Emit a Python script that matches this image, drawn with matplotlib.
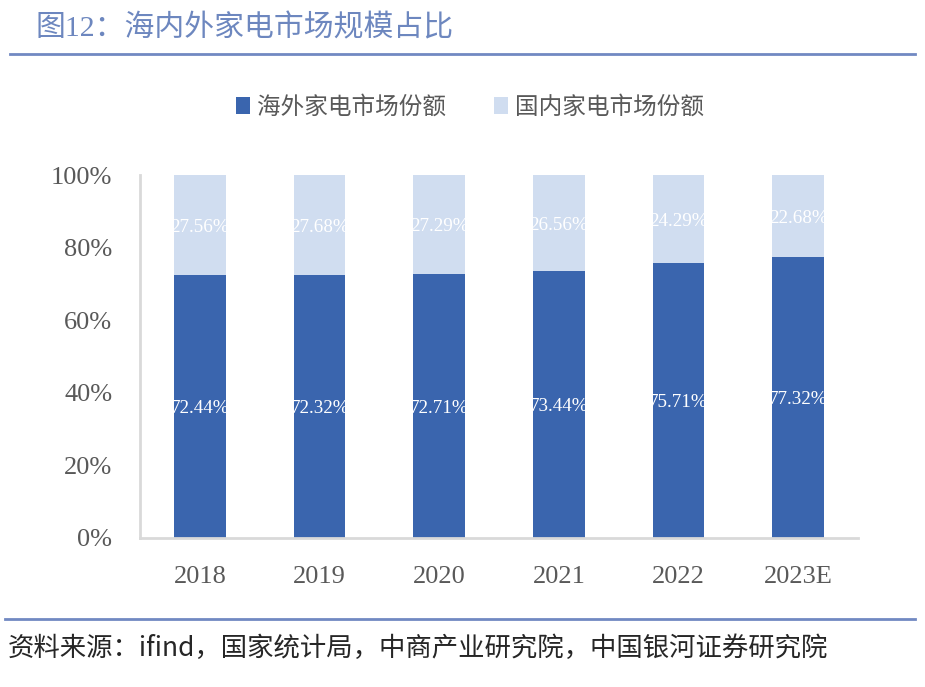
import matplotlib
matplotlib.use("Agg")
import matplotlib.pyplot as plt
from matplotlib.patches import Patch
from matplotlib.lines import Line2D
import numpy as np

years = ["2018", "2019", "2020", "2021", "2022", "2023E"]
overseas = [72.44, 72.32, 72.71, 73.44, 75.71, 77.32]
domestic = [27.56, 27.68, 27.29, 26.56, 24.29, 22.68]
series_names = ["海外家电市场份额", "国内家电市场份额"]
yticks = [0, 20, 40, 60, 80, 100]
title = "图12：海内外家电市场规模占比"
source = "资料来源：ifind，国家统计局，中商产业研究院，中国银河证券研究院"

DARK = "#3a65ae"
LIGHT = "#d0ddf0"
SERIF = ["Liberation Serif", "Noto Sans CJK SC"]
CJK = ["Noto Sans CJK SC", "DejaVu Sans"]

plt.rcParams['font.family'] = SERIF

fig = plt.figure(figsize=(9.25, 6.87), dpi=100)
ax = fig.add_axes([140/925, 1-538/687, 718/925, 363/687])

x = np.arange(len(years))
w = 0.43
ax.bar(x, overseas, w, color=DARK, label=series_names[0])
ax.bar(x, domestic, w, bottom=overseas, color=LIGHT, label=series_names[1])

for xi, o, d in zip(x, overseas, domestic):
    ax.text(xi, o/2, f"{o:.2f}%", ha='center', va='center_baseline', color='white',
            fontsize=13.7, family=SERIF)
    ax.text(xi, o + d/2, f"{d:.2f}%", ha='center', va='center_baseline', color='white',
            fontsize=13.7, family=SERIF)

ax.set_xlim(-0.5, len(years) - 0.5)
ax.set_ylim(0, 100)
ax.set_yticks(yticks)
ax.set_yticklabels([f"{v}%" for v in yticks])
ax.set_xticks(x)
ax.set_xticklabels(years)
ax.tick_params(axis='both', length=0, labelsize=19, colors="#595959")
ax.tick_params(axis='y', pad=20)
ax.tick_params(axis='x', pad=20)
for s in ['top', 'right']:
    ax.spines[s].set_visible(False)
for s in ['left', 'bottom']:
    ax.spines[s].set_color("#d9d9d9")
    ax.spines[s].set_linewidth(2)

handles = [Patch(facecolor=DARK, edgecolor='none'), Patch(facecolor=LIGHT, edgecolor='none')]
fig.legend(handles, series_names, loc='center', bbox_to_anchor=(0.508, 1-107/687),
           ncol=2, frameon=False, handlelength=0.6, handleheight=0.75,
           handletextpad=0.3, columnspacing=2.0,
           prop={'family': CJK, 'size': 17}, labelcolor="#595959")

fig.text(35/925, 1-28/687, title, ha='left', va='center', fontsize=21.5,
         color="#6d87bf", family=SERIF)
fig.add_artist(Line2D([10/925, 915/925], [1-54/687, 1-54/687], color="#7189c2", lw=2))
fig.add_artist(Line2D([5/925, 915/925], [1-619/687, 1-619/687], color="#7189c2", lw=2))
fig.text(8/925, 1-648/687, source, ha='left', va='center', fontsize=19,
         color="#262626", family=CJK, style='italic')

fig.savefig("out.png", dpi=100)
